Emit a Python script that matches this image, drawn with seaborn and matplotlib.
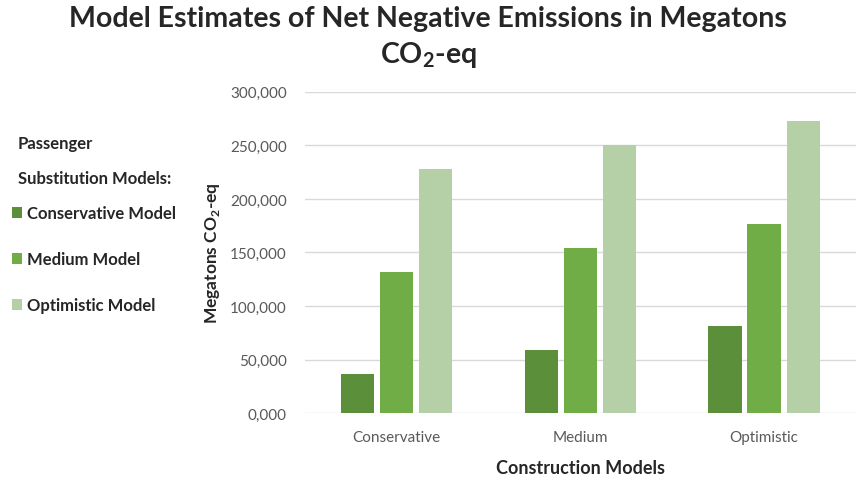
"""Model estimates of net negative emissions - grouped bar chart"""

import matplotlib
matplotlib.use('Agg')
import matplotlib.pyplot as plt
from matplotlib.ticker import FuncFormatter, MultipleLocator
import pandas as pd
import seaborn as sns

# data
construction_models = ['Conservative', 'Medium', 'Optimistic']
passenger_models = ['Conservative Model', 'Medium Model', 'Optimistic Model']
conservative_vals = [37000, 59000, 81500]
medium_vals = [132000, 154500, 177000]
optimistic_vals = [227500, 250000, 272500]

colors = ['#5B8F3A', '#70AD47', '#B5CFA7']

rows = []
for name, vals in zip(passenger_models, [conservative_vals, medium_vals, optimistic_vals]):
    for cat, v in zip(construction_models, vals):
        rows.append({'construction': cat, 'passenger': name, 'value': v})
df = pd.DataFrame(rows)

sns.set_style('white')
plt.rcParams['font.family'] = ['Lato', 'DejaVu Sans']
plt.rcParams['mathtext.fontset'] = 'custom'
plt.rcParams['mathtext.rm'] = 'Lato'
plt.rcParams['mathtext.bf'] = 'Lato:bold'

fig = plt.figure(figsize=(8.56, 4.81), dpi=100)
ax = fig.add_axes([0.356, 0.139, 0.644, 0.668])

sns.barplot(data=df, x='construction', y='value', hue='passenger',
            hue_order=passenger_models, order=construction_models,
            palette=colors, width=0.64, gap=0.15, ax=ax, saturation=1,
            edgecolor='none')

ax.set_ylim(0, 300000)
ax.yaxis.set_major_locator(MultipleLocator(50000))
ax.yaxis.set_major_formatter(FuncFormatter(
    lambda v, _: f"{int(v) // 1000},{int(v) % 1000:03d}"))
ax.grid(axis='y', color='#D9D9D9', linewidth=1)
ax.set_axisbelow(True)
for s in ax.spines.values():
    s.set_visible(False)
ax.tick_params(axis='both', length=0, colors='#595959', labelsize=11)
ax.tick_params(axis='y', pad=13)
ax.tick_params(axis='x', pad=12)

ax.set_xlabel('Construction Models', fontsize=13, fontweight='bold', labelpad=11)
ax.set_ylabel('Megatons CO$_\\mathbf{2}$-eq', fontsize=12.5, fontweight='bold', labelpad=6)

fig.suptitle('Model Estimates of Net Negative Emissions in Megatons\nCO$_\\mathbf{2}$-eq',
             x=0.5, y=0.987, fontsize=20.5, fontweight='bold', linespacing=1.35)

handles, labels = ax.get_legend_handles_labels()
ax.legend_.remove()
fig.text(0.021, 0.70, 'Passenger', fontsize=12, fontweight='bold', va='center')
fig.text(0.021, 0.627, 'Substitution Models:', fontsize=12, fontweight='bold', va='center')
fig.legend(handles, labels, loc='upper left', bbox_to_anchor=(-0.004, 0.603),
           frameon=False, handlelength=0.65, handleheight=0.65, handletextpad=0.3,
           labelspacing=1.8, prop={'weight': 'bold', 'size': 12})

plt.savefig('out.png', dpi=100)
plt.close()
